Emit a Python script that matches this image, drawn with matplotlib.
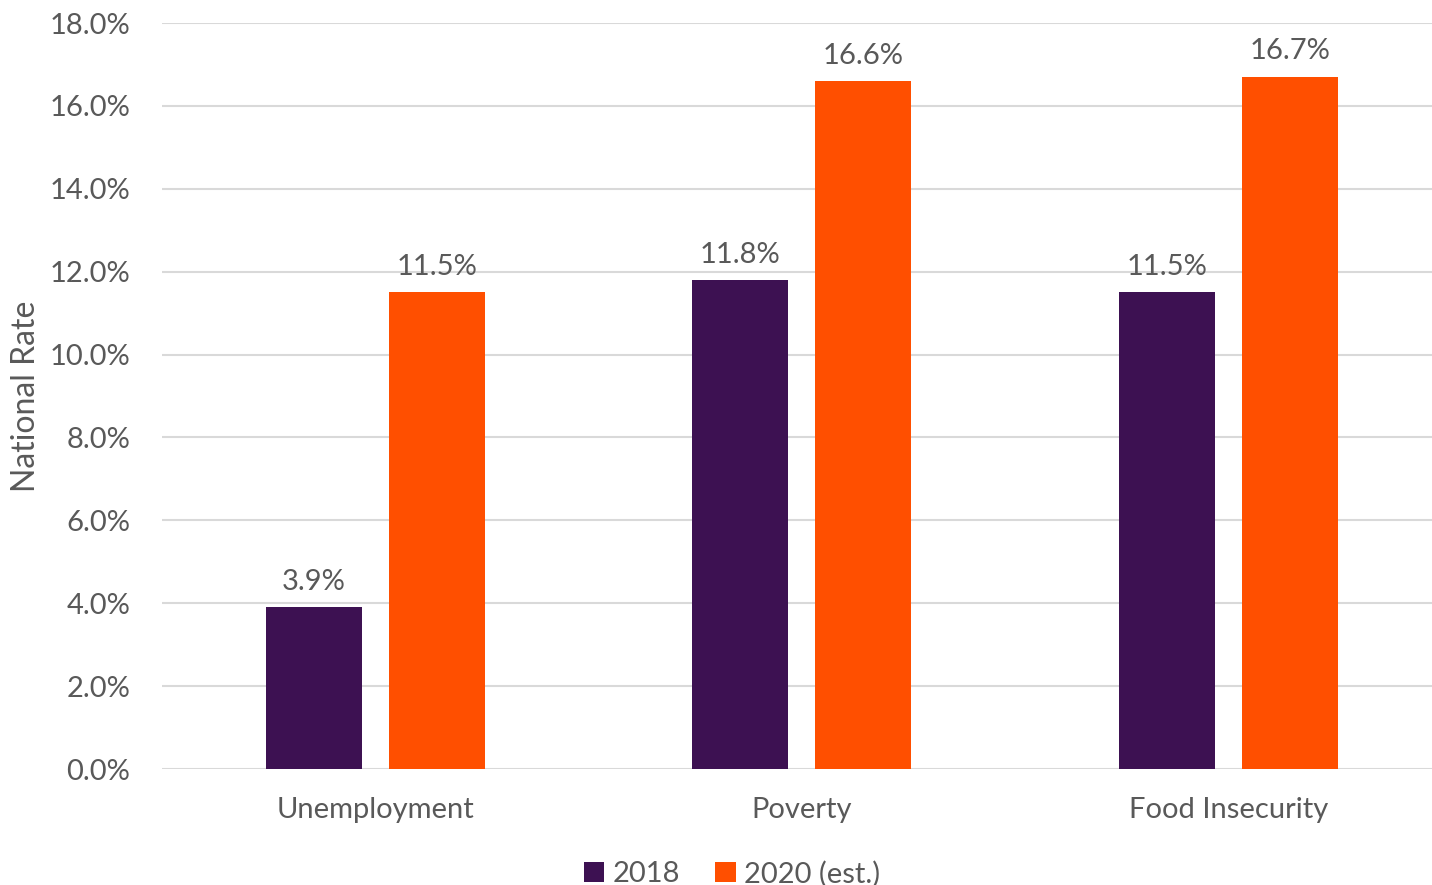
import matplotlib
matplotlib.use("Agg")
import matplotlib.pyplot as plt
import numpy as np

categories = ["Unemployment", "Poverty", "Food Insecurity"]
series_names = ["2018", "2020 (est.)"]
values_2018 = [3.9, 11.8, 11.5]
values_2020 = [11.5, 16.6, 16.7]
yticks = [0, 2, 4, 6, 8, 10, 12, 14, 16, 18]
colors = ["#3D1152", "#FF4F00"]

plt.rcParams['font.family'] = ['Lato', 'DejaVu Sans']
txt = "#595959"
fs = 21

fig = plt.figure(figsize=(14.32, 8.85), dpi=100)
ax = fig.add_axes([162/1432, (885-769)/885, 1279.5/1432, 746/885])

x = np.arange(len(categories))
w = 0.225
off = 0.144
b1 = ax.bar(x - off, values_2018, w, color=colors[0], label=series_names[0], zorder=3)
b2 = ax.bar(x + off, values_2020, w, color=colors[1], label=series_names[1], zorder=3)

for bars, vals in ((b1, values_2018), (b2, values_2020)):
    for r, v in zip(bars, vals):
        ax.text(r.get_x() + r.get_width()/2, v + 0.3, f"{v:.1f}%", ha='center', va='bottom',
                fontsize=fs, color=txt)

ax.set_xlim(-0.5, 2.5)
ax.set_ylim(0, 18)
ax.set_yticks(yticks)
ax.set_yticklabels([f"{t:.1f}%" for t in yticks])
ax.set_xticks(x)
ax.set_xticklabels(categories)
ax.tick_params(axis='both', length=0, labelsize=fs, colors=txt)
ax.tick_params(axis='y', pad=23)
ax.tick_params(axis='x', pad=20)
ax.grid(axis='y', color='#D9D9D9', linewidth=1.5, zorder=0)
for s in ax.spines.values():
    s.set_visible(False)
ax.set_ylabel("National Rate", fontsize=23, color=txt, labelpad=6)

leg = ax.legend(loc='lower center', bbox_to_anchor=(570/1279.5, -0.186), ncol=2, frameon=False,
                fontsize=fs, labelcolor=txt, handlelength=0.7, handleheight=0.7,
                handletextpad=0.3, columnspacing=1.2, borderpad=0.2)

fig.savefig("out.png", dpi=100)
